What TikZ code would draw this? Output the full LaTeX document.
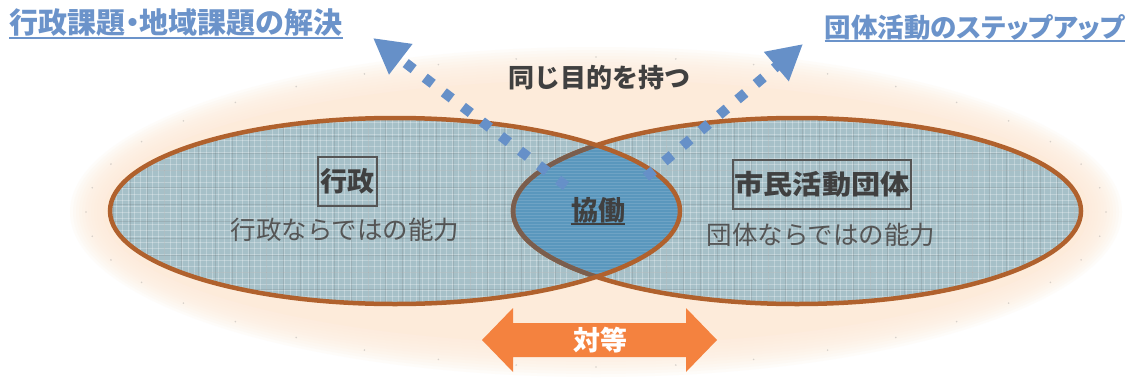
\documentclass[tikz,border=0pt]{standalone}
\usepackage{fontspec}
\newfontfamily\jp{Noto Sans CJK JP}
\newfontfamily\jpp{Noto Sans CJK JP}[RawFeature=+palt]
\newfontfamily\jpw{Noto Sans CJK JP}[FakeStretch=1.08]
\usetikzlibrary{arrows.meta}
\definecolor{peach}{HTML}{FDEBDA}
\definecolor{plaid}{HTML}{A6C0C8}
\definecolor{lensblue}{HTML}{5A97BD}
\definecolor{rim}{HTML}{B0612D}
\definecolor{rimgray}{HTML}{7A5E4E}
\definecolor{dotblue}{HTML}{6690C8}
\definecolor{titleblue}{HTML}{6B93CA}
\definecolor{inkgray}{HTML}{404040}
\definecolor{softgray}{HTML}{555555}
\definecolor{orangeA}{HTML}{F4823F}
\begin{document}
\begin{tikzpicture}[x=1pt,y=-1pt,
  titletext/.style={font=\jpp\bfseries\fontsize{29}{32}\selectfont, text=titleblue, inner sep=0pt},
  boldtext/.style={font=\jp\bfseries\fontsize{27}{30}\selectfont, text=inkgray, inner sep=0pt},
  softtext/.style={font=\jp\fontsize{25.5}{28}\selectfont, text=softgray, inner sep=0pt},
  labelbox/.style={boldtext, draw=softgray, line width=1.2pt, minimum height=49pt},
  dotline/.style={dotblue, line width=10pt, dash pattern=on 10pt off 14pt, -{Triangle[length=35pt,width=36pt]}},
  rimline/.style={line width=4.5pt},
  ]
\useasboundingbox (0,0) rectangle (1135,383);
\fill[white] (0,0) rectangle (1135,383);
% peach background ellipse with soft edge
\foreach \k in {0,3,...,30}{
  \fill[peach, opacity=0.14] (596,212) ellipse [x radius=526-\k, y radius=165-\k];
}
\fill[peach] (596,212) ellipse [x radius=493, y radius=132];
% sparse speckles along the edge
\foreach \a in {0,9,...,351}{
  \fill[gray, opacity=0.3] ({596+510*cos(\a)},{212+155*sin(\a)}) circle [radius=0.9];
}
% ellipse fills with plaid texture
\fill[plaid] (395,211) ellipse [x radius=285, y radius=93];
\fill[plaid] (797,211) ellipse [x radius=284, y radius=93];
\begin{scope}
  \clip (395,211) ellipse [x radius=285, y radius=93];
  \foreach \i in {110,116,...,690}{\draw[white, opacity=0.28, line width=1pt] (\i,110) -- (\i,310);}
  \foreach \j in {116,122,...,306}{\draw[white, opacity=0.28, line width=1pt] (100,\j) -- (690,\j);}
  \foreach \i in {113,130,...,690}{\draw[black!70, opacity=0.14, line width=1pt] (\i,110) -- (\i,310);}
  \foreach \j in {119,136,...,306}{\draw[black!70, opacity=0.14, line width=1pt] (100,\j) -- (690,\j);}
\end{scope}
\begin{scope}
  \clip (797,211) ellipse [x radius=284, y radius=93];
  \foreach \i in {510,516,...,1085}{\draw[white, opacity=0.28, line width=1pt] (\i,110) -- (\i,310);}
  \foreach \j in {116,122,...,306}{\draw[white, opacity=0.28, line width=1pt] (500,\j) -- (1090,\j);}
  \foreach \i in {513,530,...,1085}{\draw[black!70, opacity=0.14, line width=1pt] (\i,110) -- (\i,310);}
  \foreach \j in {119,136,...,306}{\draw[black!70, opacity=0.14, line width=1pt] (500,\j) -- (1090,\j);}
\end{scope}
% lens
\begin{scope}
  \clip (395,211) ellipse [x radius=285, y radius=93];
  \fill[lensblue] (797,211) ellipse [x radius=284, y radius=93];
  \clip (797,211) ellipse [x radius=284, y radius=93];
  \foreach \j in {146,149,...,278}{\draw[white, opacity=0.12, line width=0.8pt] (500,\j) -- (690,\j);}
\end{scope}
% outlines
\draw[rim, rimline] (797,211) ellipse [x radius=284, y radius=93];
\begin{scope}
  \clip (395,211) ellipse [x radius=285, y radius=93];
  \draw[rimgray, rimline] (797,211) ellipse [x radius=284, y radius=93];
\end{scope}
\draw[rim, rimline] (395,211) ellipse [x radius=285, y radius=93];
% dotted arrows
\coordinate (ls) at (566,186);
\coordinate (lt) at (373,38);
\coordinate (rs) at (646,177);
\coordinate (rt) at (803,44);
\draw[dotline] (ls) -- (lt);
\draw[dotline] (rs) -- (rt);
% titles
\node[titletext] (tl) at (176,23) {行政課題・地域課題の解決};
\draw[titleblue, line width=2pt] ([yshift=-1pt]tl.south west) -- ([yshift=-1pt]tl.south east);
\node[titletext, font=\jpp\bfseries\fontsize{26.5}{30}\selectfont, anchor=east] (tr) at (1125,27) {団体活動のステップアップ};
\draw[titleblue, line width=2pt] ([yshift=-1pt]tr.south west) -- ([yshift=-1pt]tr.south east);
% purpose
\node[boldtext, font=\jp\bfseries\fontsize{26}{28}\selectfont] (purpose) at (599,78) {同じ目的を持つ};
% left
\node[labelbox, minimum width=59pt] (gyosei) at (347.5,181.5) {行政};
\node[softtext] (gyoseicap) at (345,230) {行政ならではの能力};
% right
\node[labelbox, font=\jpw\bfseries\fontsize{27}{30}\selectfont, minimum width=178pt] (shimin) at (822,184.5) {市民活動団体};
\node[softtext] (shimincap) at (821,235) {団体ならではの能力};
% center
\node[boldtext] (kyodo) at (598,210) {協働};
\draw[inkgray, line width=1.5pt] ([yshift=-1pt]kyodo.south west) -- ([yshift=-1pt]kyodo.south east);
% equal arrow
\fill[orangeA] (482,340) -- (513,308) -- (513,323) -- (686,323) -- (686,308) -- (717,340)
  -- (686,372) -- (686,357) -- (513,357) -- (513,372) -- cycle;
\node[boldtext, text=white] (taito) at (600,340) {対等};
\end{tikzpicture}
\end{document}
